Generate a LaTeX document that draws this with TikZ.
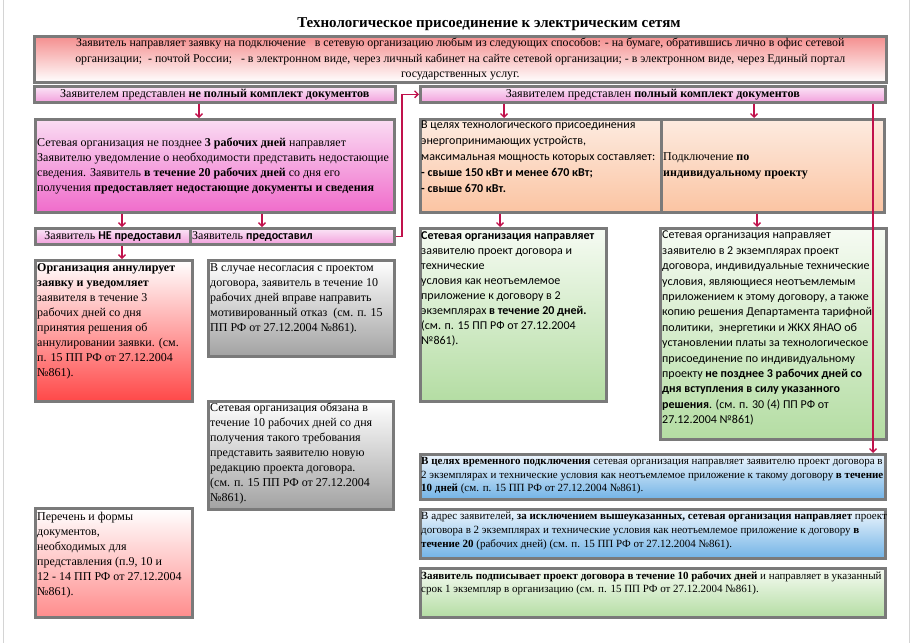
\documentclass[tikz,border=0pt]{standalone}
\usepackage{fontspec}
\setmainfont{Liberation Serif}
\newfontfamily\calfont{Carlito}
\usetikzlibrary{arrows.meta}
\definecolor{bordergray}{HTML}{7A7A7A}
\definecolor{framegray}{HTML}{D4D4D4}
\definecolor{conn}{HTML}{C0124C}
\definecolor{topred}{HTML}{F48E8E}
\definecolor{barlight}{HTML}{FBE6F7}
\definecolor{bardark}{HTML}{F2A0DC}
\definecolor{pinklight}{HTML}{FADCF3}
\definecolor{pinkdark}{HTML}{F06CCB}
\definecolor{reddark}{HTML}{FF4848}
\definecolor{graydark}{HTML}{A2A2A2}
\definecolor{pink2dark}{HTML}{FF8C8C}
\definecolor{orlight}{HTML}{FDEBE0}
\definecolor{ordark}{HTML}{FBC4A2}
\definecolor{grlight}{HTML}{F6FBF3}
\definecolor{grdark}{HTML}{B4DDA3}
\definecolor{bllight}{HTML}{EEF6FD}
\definecolor{bldark}{HTML}{72B3E6}
\begin{document}
\begin{tikzpicture}[x=1pt,y=-1pt]
\tikzset{
  box/.style={draw=bordergray, line width=2.6pt, inner sep=0pt, anchor=north west, rectangle},
  txt/.style={inner sep=0pt, anchor=north west, align=left, font=\fontsize{12}{15}\selectfont},
  ctxt/.style={inner sep=0pt, align=center, font=\fontsize{11.85}{15.5}\selectfont},
  arr/.style={draw=conn, line width=1.3pt, -{Straight Barb[length=3.5pt,width=7pt]}},
}
\useasboundingbox (0,0) rectangle (913,643);
\draw[framegray, line width=1pt] (3,0) -- (3,643);
\draw[framegray, line width=1pt] (909,0) -- (909,643);

\node[font=\fontsize{15}{18}\selectfont\bfseries] (title) at (489,24) {Технологическое присоединение к электрическим сетям};

% boxes
\node[box, top color=topred, bottom color=white, minimum width=852pt, minimum height=46pt] (top) at (33,35) {};
\node[box, top color=barlight, bottom color=bardark, minimum width=361pt, minimum height=16pt] (barL) at (33,85) {};
\node[box, top color=barlight, bottom color=bardark, minimum width=465pt, minimum height=16pt] (barR) at (419,85) {};
\node[box, top color=pinklight, bottom color=pinkdark, minimum width=359pt, minimum height=93pt] (pb) at (34,118) {};
\node[box, top color=barlight, bottom color=bardark, minimum width=155pt, minimum height=16pt] (barNE) at (34,227) {};
\node[box, top color=barlight, bottom color=bardark, minimum width=204pt, minimum height=16pt] (barYes) at (189,227) {};
\node[box, top color=white, bottom color=reddark, minimum width=157pt, minimum height=141pt] (red) at (34,259) {};
\node[box, top color=white, bottom color=graydark, minimum width=186pt, minimum height=96pt] (gray1) at (207,259) {};
\node[box, top color=white, bottom color=graydark, minimum width=185pt, minimum height=108pt] (gray2) at (207,400) {};
\node[box, top color=white, bottom color=pink2dark, minimum width=157pt, minimum height=109pt] (pink2) at (34,507) {};
\node[box, top color=orlight, bottom color=ordark, minimum width=241pt, minimum height=93pt] (orL) at (419,118) {};
\node[box, top color=orlight, bottom color=ordark, minimum width=223pt, minimum height=93pt] (orR) at (660,118) {};
\node[box, top color=grlight, bottom color=grdark, minimum width=186pt, minimum height=173pt] (gr1) at (419,227) {};
\node[box, top color=grlight, bottom color=grdark, minimum width=226pt, minimum height=211pt] (gr2) at (659,227) {};
\node[box, top color=bllight, bottom color=bldark, minimum width=465pt, minimum height=45pt] (bl1) at (419,453) {};
\node[box, top color=bllight, bottom color=bldark, minimum width=465pt, minimum height=49pt] (bl2) at (419,508) {};
\node[box, top color=grlight, bottom color=grdark, minimum width=465pt, minimum height=49pt] (gr3) at (419,567) {};

% texts
\node[ctxt] (topT) at (top.center) {Заявитель направляет заявку на подключение \ \ в сетевую организацию любым из следующих способов: - на бумаге, обратившись лично в офис сетевой\\
организации; \ - почтой России; \ \ - в электронном виде, через личный кабинет на сайте сетевой организации; - в электронном виде, через Единый портал\\
государственных услуг.};
\node[ctxt, font=\fontsize{12.1}{15}\selectfont] (barLT) at (barL.center) {Заявителем представлен \textbf{не полный комплект документов}};
\node[ctxt, font=\fontsize{12.1}{15}\selectfont] (barRT) at (barR.center) {Заявителем представлен \textbf{полный комплект документов}};
\node[txt, anchor=west] (pbT) at ([xshift=3pt]pb.west) {Сетевая организация не позднее \textbf{3 рабочих дней} направляет\\
Заявителю уведомление о необходимости представить недостающие\\
сведения. Заявитель \textbf{в течение 20 рабочих дней} со дня его\\
получения \textbf{предоставляет недостающие документы и сведения}};
\node[ctxt, font=\fontsize{12}{15}\selectfont] (barNET) at (barNE.center) {Заявитель {\calfont\bfseries НЕ предоставил}};
\node[txt, anchor=west] (barYesT) at ([xshift=3pt]barYes.west) {Заявитель {\calfont\bfseries предоставил}};
\node[txt] (redT) at ([shift={(3pt,-4pt)}]red.north west) {\textbf{Организация аннулирует}\\
\textbf{заявку и уведомляет}\\
заявителя в течение 3\\
рабочих дней со дня\\
принятия решения об\\
аннулировании заявки. (см.\\
п. 15 ПП РФ от 27.12.2004\\
№861).};
\node[txt] (gray1T) at ([shift={(3pt,-4pt)}]gray1.north west) {В случае несогласия с проектом\\
договора, заявитель в течение 10\\
рабочих дней вправе направить\\
мотивированный отказ \ (см. п. 15\\
ПП РФ от 27.12.2004 №861).};
\node[txt] (gray2T) at ([shift={(3pt,-3pt)}]gray2.north west) {Сетевая организация обязана в\\
течение 10 рабочих дней со дня\\
получения такого требования\\
представить заявителю новую\\
редакцию проекта договора.\\
(см. п. 15 ПП РФ от 27.12.2004\\
№861).};
\node[txt] (pink2T) at ([shift={(3pt,-5pt)}]pink2.north west) {Перечень и формы\\
документов,\\
необходимых для\\
представления (п.9, 10 и\\
12 - 14 ПП РФ от 27.12.2004\\
№861).};
\node[txt, font=\calfont\fontsize{12}{15.8}\selectfont] (orLT) at ([shift={(2pt,-3pt)}]orL.north west) {В целях технологического присоединения\\
энергопринимающих устройств,\\
максимальная мощность которых составляет:\\
\textbf{- свыше 150 кВт и менее 670 кВт;}\\
\textbf{- свыше 670 кВт.}};
\node[txt, anchor=west, font=\fontsize{12}{16}\selectfont] (orRT) at ([xshift=3pt]orR.west) {Подключение \textbf{по}\\
\textbf{индивидуальному проекту}};
\node[txt, font=\calfont\fontsize{12}{15}\selectfont] (gr1T) at ([shift={(2pt,-4pt)}]gr1.north west) {\textbf{Сетевая организация направляет}\\
заявителю проект договора и\\
технические\\
условия как неотъемлемое\\
приложение к договору в 2\\
экземплярах \textbf{в течение 20 дней.}\\
(см. п. 15 ПП РФ от 27.12.2004\\
№861).};
\node[txt, font=\calfont\fontsize{12}{15.4}\selectfont] (gr2T) at ([shift={(3pt,-4pt)}]gr2.north west) {Сетевая организация направляет\\
заявителю в 2 экземплярах проект\\
договора, индивидуальные технические\\
условия, являющиеся неотъемлемым\\
приложением к этому договору, а также\\
копию решения Департамента тарифной\\
политики, \ энергетики и ЖКХ ЯНАО об\\
установлении платы за технологическое\\
присоединение по индивидуальному\\
проекту \textbf{не позднее 3 рабочих дней со}\\
\textbf{дня вступления в силу указанного}\\
\textbf{решения}. (см. п. 30 (4) ПП РФ от\\
27.12.2004 №861)};
\node[txt, font=\fontsize{11}{13.7}\selectfont] (bl1T) at ([shift={(2pt,-4pt)}]bl1.north west) {\textbf{В целях временного подключения} сетевая организация направляет заявителю проект договора в\\
2 экземплярах и технические условия как неотъемлемое приложение к такому договору \textbf{в течение}\\
\textbf{10 дней} (см. п. 15 ПП РФ от 27.12.2004 №861).};
\node[txt, font=\fontsize{11}{13.7}\selectfont] (bl2T) at ([shift={(2pt,-4pt)}]bl2.north west) {В адрес заявителей, \textbf{за исключением вышеуказанных, сетевая организация направляет} проект\\
договора в 2 экземплярах и технические условия как неотъемлемое приложение к договору \textbf{в}\\
\textbf{течение 20} (рабочих дней) (см. п. 15 ПП РФ от 27.12.2004 №861).};
\node[txt, font=\fontsize{11}{13.7}\selectfont] (gr3T) at ([shift={(2pt,-4pt)}]gr3.north west) {\textbf{Заявитель подписывает проект договора в течение 10 рабочих дней} и направляет в указанный\\
срок 1 экземпляр в организацию (см. п. 15 ПП РФ от 27.12.2004 №861).};

% connectors
\coordinate (xa) at (199,0);
\coordinate (xb) at (122,0);
\coordinate (xc) at (262,0);
\coordinate (xe) at (402,0);
\coordinate (xf) at (504,0);
\coordinate (xg) at (754,0);
\coordinate (xh) at (873,0);
\coordinate (xi) at (500,0);
\coordinate (xj) at (757,0);
\draw[arr] (barL.south -| xa) -- (pb.north -| xa);
\draw[arr] (pb.south -| xb) -- (barNE.north -| xb);
\draw[arr] (pb.south -| xc) -- (barYes.north -| xc);
\draw[arr] (barNE.south -| xb) -- (red.north -| xb);
\draw[arr] (barYes.east) -- (barYes.east -| xe) |- (barR.west);
\draw[arr] (barR.south -| xf) -- (orL.north -| xf);
\draw[arr] (barR.south -| xg) -- (orR.north -| xg);
\draw[arr] (barR.south -| xh) -- (bl1.north -| xh);
\draw[arr] (orL.south -| xi) -- (gr1.north -| xi);
\draw[arr] (orR.south -| xj) -- (gr2.north -| xj);
\end{tikzpicture}
\end{document}
